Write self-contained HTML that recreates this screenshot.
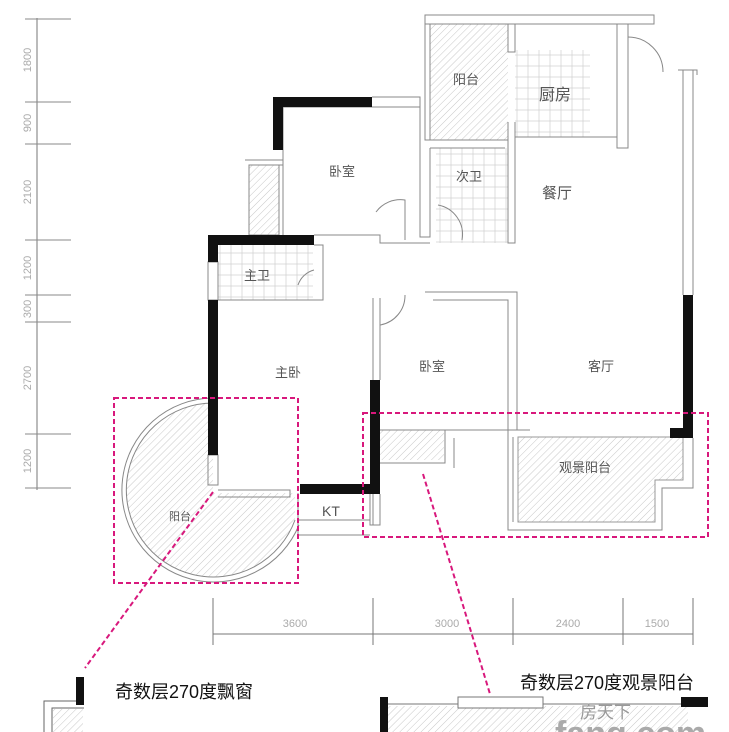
<!DOCTYPE html>
<html><head><meta charset="utf-8"><style>
html,body{margin:0;padding:0;background:#fff;}
svg{display:block;}
text{font-family:"Liberation Sans","Noto Sans CJK SC",sans-serif;}
</style></head><body>
<svg width="729" height="732" viewBox="0 0 729 732" xmlns="http://www.w3.org/2000/svg">
<defs>
<pattern id="h" width="5" height="5" patternUnits="userSpaceOnUse" patternTransform="rotate(45)">
<line x1="0" y1="0" x2="0" y2="5" stroke="#c8c8c8" stroke-width="1"/></pattern>
<pattern id="g" width="11" height="11" patternUnits="userSpaceOnUse">
<rect width="11" height="11" fill="none" stroke="#d4d4d4" stroke-width="0.8"/></pattern>
</defs>
<g stroke="#777" stroke-width="1" fill="none">
<line x1="37" y1="18" x2="37" y2="490"/>
<g stroke="#888">
<line x1="25" y1="19" x2="71" y2="19"/><line x1="25" y1="102" x2="71" y2="102"/>
<line x1="25" y1="144" x2="71" y2="144"/><line x1="25" y1="240" x2="71" y2="240"/>
<line x1="25" y1="295" x2="71" y2="295"/><line x1="25" y1="322" x2="71" y2="322"/>
<line x1="25" y1="434" x2="71" y2="434"/><line x1="25" y1="488" x2="71" y2="488"/>
</g>
<line x1="213" y1="634" x2="693" y2="634"/>
<line x1="213" y1="598" x2="213" y2="645"/><line x1="373" y1="598" x2="373" y2="645"/>
<line x1="513" y1="598" x2="513" y2="645"/><line x1="623" y1="598" x2="623" y2="645"/>
<line x1="693" y1="598" x2="693" y2="645"/>
</g>
<g fill="#aaa" font-size="11">
<text transform="translate(31,60) rotate(-90)" text-anchor="middle">1800</text>
<text transform="translate(31,123) rotate(-90)" text-anchor="middle">900</text>
<text transform="translate(31,192) rotate(-90)" text-anchor="middle">2100</text>
<text transform="translate(31,268) rotate(-90)" text-anchor="middle">1200</text>
<text transform="translate(31,309) rotate(-90)" text-anchor="middle">300</text>
<text transform="translate(31,378) rotate(-90)" text-anchor="middle">2700</text>
<text transform="translate(31,461) rotate(-90)" text-anchor="middle">1200</text>
<text x="295" y="627" text-anchor="middle">3600</text>
<text x="447" y="627" text-anchor="middle">3000</text>
<text x="568" y="627" text-anchor="middle">2400</text>
<text x="657" y="627" text-anchor="middle">1500</text>
</g>
<rect x="430" y="24" width="78" height="116" fill="url(#h)"/>
<rect x="515" y="50" width="75" height="87" fill="url(#g)"/>
<rect x="436" y="148" width="72" height="95" fill="url(#g)"/>
<rect x="218" y="245" width="95" height="55" fill="url(#g)"/>
<rect x="249" y="165" width="30" height="70" fill="url(#h)" stroke="#888"/>
<rect x="380" y="430" width="64" height="30" fill="url(#h)"/>
<path d="M518 437 H683 V480 H655 V522 H518 Z" fill="url(#h)" stroke="#999"/>
<path d="M213 403 A87 87 0 1 0 295 520 V493 H213 Z" fill="url(#h)"/>
<g stroke="#888" stroke-width="1" fill="none">
<rect x="425" y="15" width="229" height="9"/>
<rect x="425" y="24" width="5" height="116"/>
<path d="M508 24 V52 H515 V24"/><path d="M508 122 V243 H515 V122"/>
<path d="M617 24 V148 H628 V24"/>
<line x1="515" y1="137" x2="617" y2="137"/>
<path d="M430 140 H508 M430 148 H505"/>
<path d="M420 107 V237 H430 V148"/>
<path d="M372 97 H420 V107 H283"/>
<path d="M283 107 V235"/><path d="M245 160 H283 V165 H249 V235"/>
<path d="M314 235 H380 V243 H430 M314 245 H323 V300 H218"/>
<path d="M683 70 V295 M693 70 V295 M678 70 H697 V75"/>
<path d="M628 37 A35 35 0 0 1 663 72"/><path d="M298 285 A23 23 0 0 1 314 270"/>
<path d="M376 212 A30 30 0 0 1 405 200 V240"/><path d="M438 205 A30 30 0 0 1 462 240"/>
<path d="M373 298 V525 M380 298 V380"/>
<path d="M425 292 H517 V430 M433 300 H508 V430"/>
<path d="M380 325 A30 30 0 0 0 405 295"/>
<path d="M380 430 H530 M445 430 V463 H380 M454 438 V468"/>
<path d="M508 430 V530 H662 V488 H693 V438 M513 437 V522"/>
<path d="M298 493 V535 H370 M298 520 H370 M370 494 V525 H380 V494"/>
<path d="M213 403 A87 87 0 1 0 295 520" /><path d="M213 398 A92 92 0 1 0 299 525"/>
<path d="M218 490 H290 V497 H218" />
<path d="M208 262 H218 V300 H208 Z M208 455 H218 V485 H208 Z"/>
</g>
<g fill="#111">
<rect x="273" y="97" width="99" height="10"/><rect x="273" y="97" width="10" height="53"/>
<rect x="208" y="235" width="106" height="10"/><rect x="208" y="235" width="10" height="27"/>
<rect x="208" y="300" width="10" height="155"/>
<rect x="300" y="484" width="80" height="10"/><rect x="370" y="380" width="10" height="114"/>
<rect x="683" y="295" width="10" height="140"/><rect x="670" y="428" width="23" height="10"/>
</g>
<g fill="#555" font-size="13" text-anchor="middle">
<text x="342" y="176">卧室</text><text x="466" y="84">阳台</text>
<text x="555" y="100" font-size="16">厨房</text><text x="469" y="181">次卫</text>
<text x="557" y="198" font-size="15">餐厅</text><text x="257" y="280">主卫</text>
<text x="288" y="377">主卧</text><text x="432" y="371">卧室</text>
<text x="601" y="371">客厅</text><text x="585" y="472">观景阳台</text>
<text x="180" y="520" font-size="11">阳台</text><text x="331" y="516" font-size="14">KT</text>
</g>
<g stroke="#d8187c" stroke-width="2" stroke-dasharray="5,3" fill="none">
<rect x="114" y="398" width="184" height="185"/>
<rect x="363" y="413" width="345" height="124"/>
<line x1="213" y1="492" x2="85" y2="668"/>
<line x1="423" y1="474" x2="490" y2="694"/>
</g>
<text x="115" y="698" font-size="18" fill="#111">奇数层270度飘窗</text>
<text x="520" y="689" font-size="18" fill="#111">奇数层270度观景阳台</text>
<rect x="76" y="677" width="8" height="28" fill="#111"/>
<path d="M44 732 V701 H76 M52 732 V708 H84" stroke="#666" fill="none"/>
<rect x="53" y="709" width="30" height="23" fill="url(#h)"/>
<rect x="380" y="697" width="8" height="35" fill="#111"/>
<rect x="388" y="706" width="300" height="26" fill="url(#h)"/>
<line x1="388" y1="704" x2="690" y2="704" stroke="#777"/>
<rect x="458" y="697" width="85" height="11" fill="#fff" stroke="#777"/>
<rect x="681" y="697" width="27" height="10" fill="#111"/>
<text x="580" y="718" font-size="17" fill="#999">房天下</text>
<text x="555" y="745" font-size="34" font-weight="bold" fill="#aaa">fang.com</text>
</svg>
</body></html>
